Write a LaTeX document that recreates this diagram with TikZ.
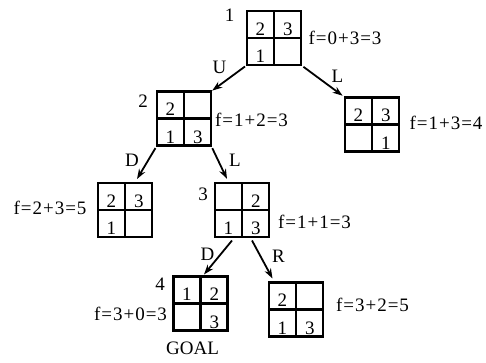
\documentclass[tikz,border=0pt]{standalone}
\usepackage{fontspec}
\setmainfont{Liberation Serif}
\usetikzlibrary{calc,arrows.meta}
\newcommand\eqs{\kern1pt=\kern1pt}
\newcommand\pls{\kern1pt+\kern1pt}
\newcommand\puz[7]{%
  \node[pbox] (#1) at (#2,#3) {};
  \draw[inner] (#1.north) -- (#1.south) (#1.west) -- (#1.east);
  \node[dig] at ({#2-13.75},{#3-3}) {#4};
  \node[dig] at ({#2+13.75},{#3-3}) {#5};
  \node[dig] at ({#2-13.75},{#3+24.5}) {#6};
  \node[dig] at ({#2+13.75},{#3+24.5}) {#7};
}
\tikzset{
  pbox/.style={draw, line width=2.5pt, minimum size=54pt, inner sep=0pt, outer sep=0pt},
  inner/.style={line width=2.1pt},
  dig/.style={anchor=base, inner sep=0pt, font=\fontsize{19}{21}\selectfont},
  lab/.style={inner sep=0pt, font=\fontsize{19}{21}\selectfont},
  arr/.style={line width=1.8pt, -{Stealth[length=10pt,width=7pt]}},
}
\begin{document}
\begin{tikzpicture}[x=1pt,y=-1pt]
\useasboundingbox (0,0) rectangle (486,362);
\puz{b1}{274}{38}{2}{3}{1}{}
\puz{b2}{184}{118.5}{2}{}{1}{3}
\puz{br}{372}{124.5}{2}{3}{}{1}
\puz{bd}{125}{210}{2}{3}{1}{}
\puz{b3}{242}{210}{}{2}{1}{3}
\puz{bg}{200.5}{303.5}{1}{2}{}{3}
\puz{brr}{296}{309.5}{2}{}{1}{3}
% state numbers
\node[lab] (n1) at (229.5,15) {1};
\node[lab] (n2) at (143,101) {2};
\node[lab] (n3) at (203,194) {3};
\node[lab] (n4) at (160,284) {4};
% f values
\node[lab] (f1) at (345,38) {f\eqs0\pls3\eqs3};
\node[lab] (f2) at (251.5,120) {f\eqs1\pls2\eqs3};
\node[lab] (f3) at (446,122.5) {f\eqs1\pls3\eqs4};
\node[lab] (f4) at (50,207.5) {f\eqs2\pls3\eqs5};
\node[lab] (f5) at (314.5,221.5) {f\eqs1\pls1\eqs3};
\node[lab] (f6) at (130.5,314) {f\eqs3\pls0\eqs3};
\node[lab] (f7) at (372.5,305) {f\eqs3\pls2\eqs5};
\node[lab] (goal) at (192.5,348) {GOAL};
% arrows
\draw[arr, shorten <=2.5pt, shorten >=1.5pt] (b1.south west) -- (b2.north east);
\draw[arr, shorten <=3pt, shorten >=3pt] (b1.south east) -- (br.north west);
\draw[arr, shorten <=3pt] (b2.south west) -- ($(bd.north)+(12,-4)$);
\draw[arr, shorten <=3pt] (b2.south east) -- ($(b3.north)+(-15,-4)$);
\draw[arr] ($(b3.south)+(-10,3.5)$) -- ($(bg.north)+(3.5,-2)$);
\draw[arr] ($(b3.south)+(10,3.5)$) -- ($(brr.north west)+(3.5,-4)$);
% move labels
\node[lab] (mU) at (219.5,67.5) {U};
\node[lab] (mL1) at (337.5,76.5) {L};
\node[lab] (mD1) at (132,160) {D};
\node[lab] (mL2) at (235,160) {L};
\node[lab] (mD2) at (207.5,254) {D};
\node[lab] (mR) at (278.5,256) {R};
\end{tikzpicture}
\end{document}
